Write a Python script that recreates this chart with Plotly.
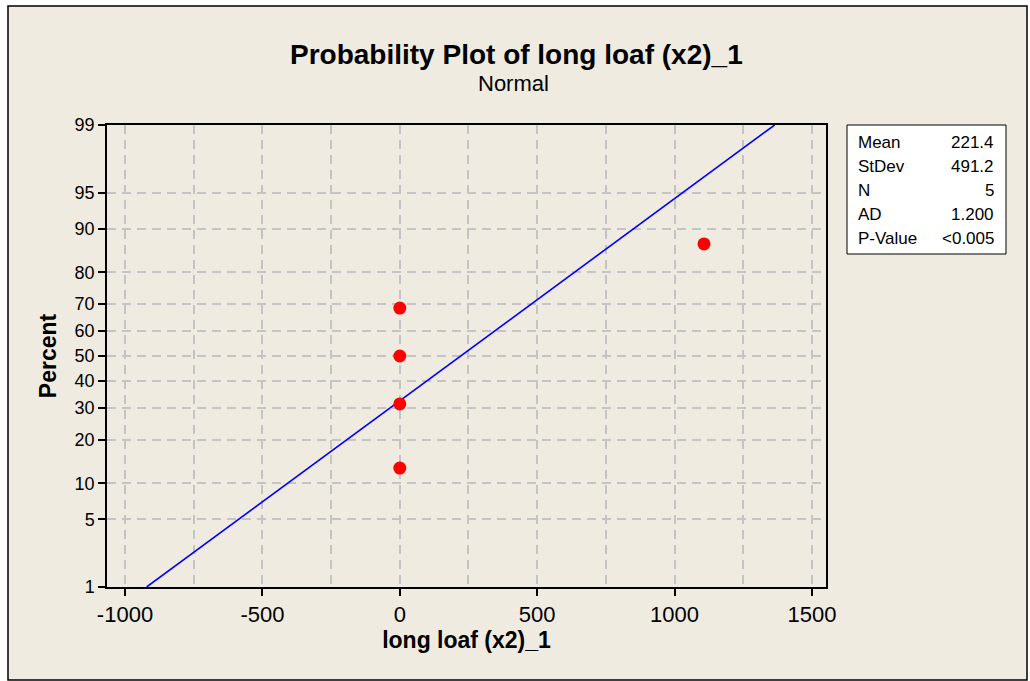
import numpy as np
import plotly.graph_objects as go
from statistics import NormalDist

# ---- data ----
values = [0, 0, 0, 0, 1107]
plot_percent = [12.96, 31.48, 50.0, 68.52, 87.04]
mean_val = 221.4
stdev_val = 491.2
stat_labels = ["Mean", "StDev", "N", "AD", "P-Value"]
stat_values = ["221.4", "491.2", "5", "1.200", "<0.005"]
y_ticks = [1, 5, 10, 20, 30, 40, 50, 60, 70, 80, 90, 95, 99]
x_ticks = [-1000, -500, 0, 500, 1000, 1500]
line_percent = [1, 99]

nd = NormalDist()
def z(p):
    return nd.inv_cdf(p / 100.0)

W, H = 1030, 681
L, R, T, B = 107, 826, 125, 587
ml, mr, mt, mb = L, W - R, T, H - B
pw, ph = R - L, B - T
def px(x):
    return (x - L) / pw
def py(y):
    return (B - y) / ph

bg = "#EFEBE1"
ff = "Liberation Sans"
grid_c = "#C4C4C4"
grid_dash = "9px,6px"

fig = go.Figure()

# fitted line
lx = [mean_val + stdev_val * z(p) for p in line_percent]
ly = [z(p) for p in line_percent]
fig.add_trace(go.Scatter(x=lx, y=ly, mode="lines",
                         line=dict(color="#0000FF", width=1.6), hoverinfo="skip"))
# points
fig.add_trace(go.Scatter(x=values, y=[z(p) for p in plot_percent], mode="markers",
                         marker=dict(color="#FF0000", size=13)))

shapes = []
shapes.append(dict(type="rect", xref="paper", yref="paper",
                   x0=px(8), x1=px(1027), y0=py(680), y1=py(6),
                   fillcolor=bg, line=dict(color="black", width=1.5), layer="below"))
shapes.append(dict(type="rect", xref="paper", yref="paper",
                   x0=px(847), x1=px(1006), y0=py(254), y1=py(125),
                   fillcolor="white", line=dict(color="black", width=1), layer="below"))

annotations = []
annotations.append(dict(text="<b>Probability Plot of long loaf (x2)_1</b>", xref="paper", yref="paper",
                        x=px(516), y=py(55), showarrow=False, xanchor="center", yanchor="middle",
                        font=dict(size=28, color="black", family=ff)))
annotations.append(dict(text="Normal", xref="paper", yref="paper",
                        x=px(513), y=py(84), showarrow=False, xanchor="center", yanchor="middle",
                        font=dict(size=22, color="black", family=ff)))
for i, (lab, val) in enumerate(zip(stat_labels, stat_values)):
    yy = 142 + i * 24.2
    annotations.append(dict(text=lab, xref="paper", yref="paper", x=px(856), y=py(yy),
                            showarrow=False, xanchor="left", yanchor="middle",
                            font=dict(size=17, color="black", family=ff)))
    annotations.append(dict(text=val, xref="paper", yref="paper", x=px(996), y=py(yy),
                            showarrow=False, xanchor="right", yanchor="middle",
                            font=dict(size=17, color="black", family=ff)))

fig.update_layout(
    width=W, height=H,
    margin=dict(l=ml, r=mr, t=mt, b=mb),
    paper_bgcolor="white",
    plot_bgcolor="white",
    showlegend=False,
    shapes=shapes,
    annotations=annotations,
    font=dict(family=ff, color="black"),
)

fig.update_xaxes(
    range=[-1065.5, 1551],
    tickvals=x_ticks, ticktext=[str(v) for v in x_ticks],
    ticks="outside", ticklen=7, tickcolor="black", tickwidth=1.5,
    showline=True, linecolor="black", linewidth=1.5, mirror=True,
    showgrid=True, gridcolor=grid_c, griddash=grid_dash, gridwidth=1.5,
    minor=dict(dtick=250, tick0=0, showgrid=True, gridcolor=grid_c, griddash=grid_dash, gridwidth=1.5, ticks=""),
    zeroline=False,
    tickfont=dict(size=22, family=ff),
    title=dict(text="<b>long loaf (x2)_1</b>", font=dict(size=23, family=ff), standoff=4),
)
fig.update_yaxes(
    range=[z(1), z(99)],
    tickvals=[z(p) for p in y_ticks], ticktext=[str(p) for p in y_ticks],
    ticks="outside", ticklen=7, tickcolor="black", tickwidth=1.5,
    showline=True, linecolor="black", linewidth=1.5, mirror=True,
    showgrid=True, gridcolor=grid_c, griddash=grid_dash, gridwidth=1.5,
    zeroline=False,
    tickfont=dict(size=18, family=ff),
    title=dict(text="<b>Percent</b>", font=dict(size=23, family=ff), standoff=12),
)

fig.write_html("out.html", config={"displayModeBar": False},
               post_script="document.body.style.margin='0';document.body.style.padding='0';")
